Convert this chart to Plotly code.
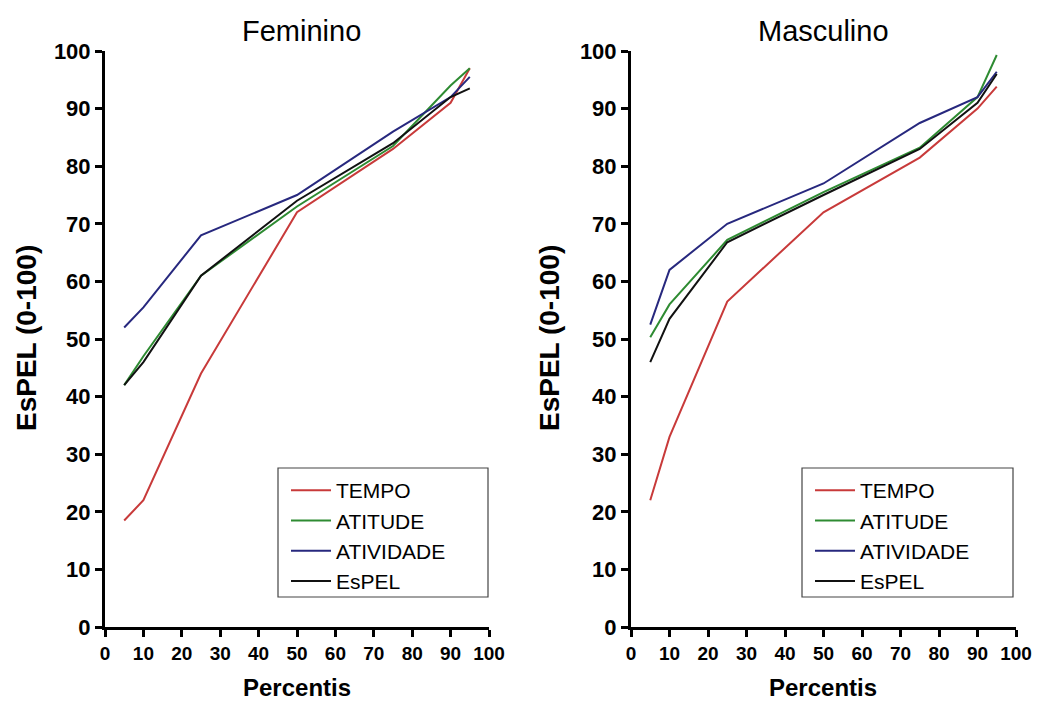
import plotly.graph_objects as go

percentis = [5, 10, 25, 50, 75, 90, 95]
series_names = ["TEMPO", "ATITUDE", "ATIVIDADE", "EsPEL"]

fem_tempo = [18.5, 22, 44, 72, 83, 91, 97]
fem_atitude = [42, 47, 61, 73, 83.5, 94, 97]
fem_atividade = [52, 55.5, 68, 75, 86, 92, 95.5]
fem_espel = [42, 46, 61, 74, 84, 92, 93.5]

masc_tempo = [22, 33, 56.5, 72, 81.5, 90, 93.8]
masc_atitude = [50.3, 56, 67.2, 75.5, 83.2, 92, 99.3]
masc_atividade = [52.5, 62, 70, 77, 87.5, 92, 96.4]
masc_espel = [46, 53.5, 66.8, 75, 83, 91, 96]

ticks = list(range(0, 101, 10))

colors = ["#c83a3a", "#2e8b32", "#27287e", "#111111"]
FONT = "Arial, Liberation Sans, sans-serif"

fig = go.Figure()
fem = [fem_tempo, fem_atitude, fem_atividade, fem_espel]
masc = [masc_tempo, masc_atitude, masc_atividade, masc_espel]
for i, (name, vals) in enumerate(zip(series_names, fem)):
    fig.add_trace(go.Scatter(x=percentis, y=vals, mode="lines", name=name,
                             line=dict(color=colors[i], width=2),
                             xaxis="x", yaxis="y", legend="legend",
                             legendgroup="f" + str(i)))
for i, (name, vals) in enumerate(zip(series_names, masc)):
    fig.add_trace(go.Scatter(x=percentis, y=vals, mode="lines", name=name,
                             line=dict(color=colors[i], width=2),
                             xaxis="x2", yaxis="y2", legend="legend2",
                             legendgroup="m" + str(i)))

W, H = 1037, 703
def px(x): return x / W
def py(y): return 1 - y / H

axis_common = dict(range=[0, 100], tickmode="array", tickvals=ticks,
                   ticks="outside", ticklen=7, tickwidth=2.5, tickcolor="black",
                   showline=True, linewidth=3, linecolor="black",
                   showgrid=False, zeroline=False, automargin=False)

ydom = [py(627), py(51)]
xfont = dict(size=19, family=FONT, weight="bold")
yfont = dict(size=22, family=FONT, weight="bold")
legfont = dict(size=21, family=FONT)
fig.update_layout(
    width=W, height=H,
    margin=dict(l=0, r=0, t=0, b=0, autoexpand=False),
    paper_bgcolor="white", plot_bgcolor="white",
    font=dict(family=FONT, color="black"),
    xaxis=dict(domain=[px(105), px(489)], anchor="y", tickfont=xfont, **axis_common),
    yaxis=dict(domain=ydom, anchor="x", tickfont=yfont, **axis_common),
    xaxis2=dict(domain=[px(631), px(1016)], anchor="y2", tickfont=xfont, **axis_common),
    yaxis2=dict(domain=ydom, anchor="x2", tickfont=yfont, **axis_common),
    legend=dict(x=px(286), y=py(470), xanchor="left", yanchor="top",
                font=legfont, bgcolor="rgba(0,0,0,0)",
                borderwidth=0, tracegroupgap=0, itemwidth=40),
    legend2=dict(x=px(810), y=py(470), xanchor="left", yanchor="top",
                 font=legfont, bgcolor="rgba(0,0,0,0)",
                 borderwidth=0, tracegroupgap=0, itemwidth=40),
    shapes=[
        dict(type="rect", xref="paper", yref="paper",
             x0=px(278), x1=px(488), y0=py(597), y1=py(468),
             line=dict(color="#444444", width=1.2)),
        dict(type="rect", xref="paper", yref="paper",
             x0=px(802), x1=px(1013), y0=py(597), y1=py(468),
             line=dict(color="#444444", width=1.2)),
    ],
    annotations=[
        dict(text="Feminino", x=px(301), y=py(31), xref="paper", yref="paper",
             xanchor="center", yanchor="middle",
             showarrow=False, font=dict(size=29, family=FONT)),
        dict(text="Masculino", x=px(823), y=py(31), xref="paper", yref="paper",
             xanchor="center", yanchor="middle",
             showarrow=False, font=dict(size=29, family=FONT)),
        dict(text="Percentis", x=px(297), y=py(687), xref="paper", yref="paper",
             xanchor="center", yanchor="middle",
             showarrow=False, font=dict(size=24, family=FONT, weight="bold")),
        dict(text="Percentis", x=px(823), y=py(687), xref="paper", yref="paper",
             xanchor="center", yanchor="middle",
             showarrow=False, font=dict(size=24, family=FONT, weight="bold")),
        dict(text="EsPEL (0-100)", x=px(26), y=py(338), xref="paper", yref="paper",
             xanchor="center", yanchor="middle",
             showarrow=False, textangle=-90,
             font=dict(size=28, family=FONT, weight="bold")),
        dict(text="EsPEL (0-100)", x=px(549), y=py(338), xref="paper", yref="paper",
             xanchor="center", yanchor="middle",
             showarrow=False, textangle=-90,
             font=dict(size=28, family=FONT, weight="bold")),
    ],
)

fig.write_html("out.html", config={"displayModeBar": False},
               post_script="document.body.style.margin='0';document.body.style.overflow='hidden';")
